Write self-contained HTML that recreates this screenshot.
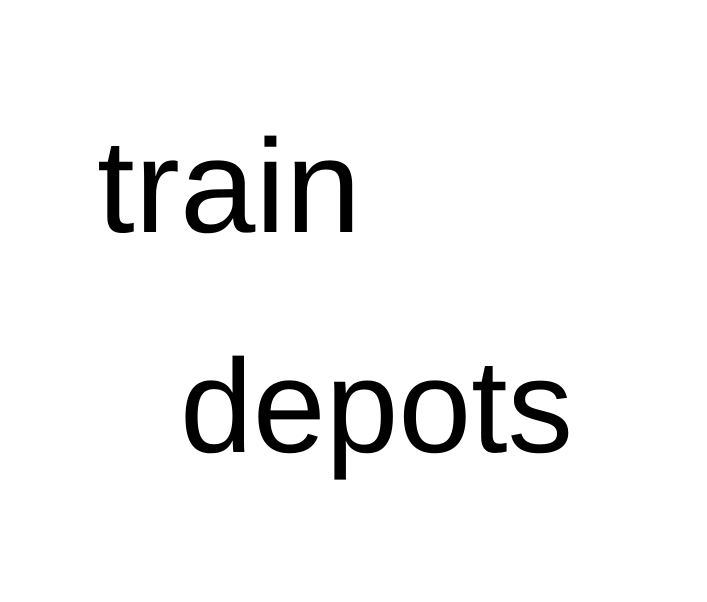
<!DOCTYPE html>
<html><head><style>html,body{margin:0;padding:0;background:#fff;}svg{display:block}</style></head>
<body>
<svg width="707" height="602" xmlns="http://www.w3.org/2000/svg">
<rect width="707" height="602" fill="#fff"/>
<text x="97" y="232" font-family="Liberation Sans, sans-serif" font-size="133" textLength="264" lengthAdjust="spacingAndGlyphs" fill="#000">train</text>
<text x="180" y="452" font-family="Liberation Sans, sans-serif" font-size="133" textLength="393" lengthAdjust="spacingAndGlyphs" fill="#000">depots</text>
</svg>
</body></html>
